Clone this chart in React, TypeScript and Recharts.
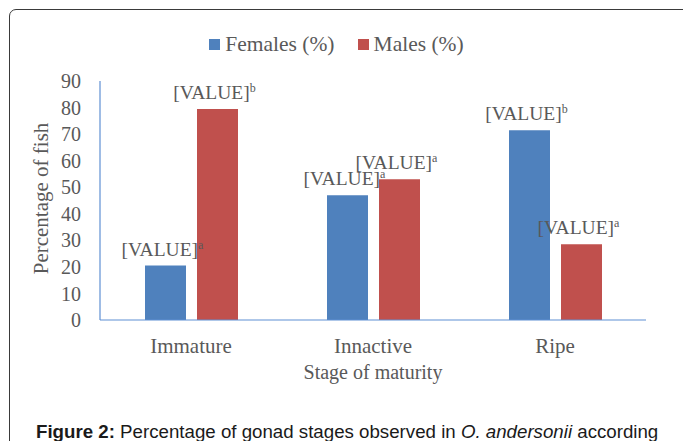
import React from "react";
import { BarChart, Bar, XAxis, YAxis, Legend, LabelList } from "recharts";

const stages = ["Immature", "Innactive", "Ripe"];
const females = [20.5, 47, 71.5];
const males = [79.5, 53, 28.5];
const femaleMarks = ["a", "a", "b"];
const maleMarks = ["b", "a", "a"];
const yTicks = [0, 10, 20, 30, 40, 50, 60, 70, 80, 90];

const data = stages.map((stage, i) => ({ stage, females: females[i], males: males[i] }));

const serif = "'Liberation Serif', 'Times New Roman', serif";
const grey = "#595959";
const axisBlue = "#5f8fd3";

const valueLabel = (marks: string[]) => (props: any) => {
  const { x, y, width, index } = props;
  const cx = x + width / 2 - 3;
  return (
    <text x={cx} y={y - 10} textAnchor="middle" fill={grey} fontFamily={serif} fontSize={19.5}>
      [VALUE]
      <tspan dy={-7} fontSize={12}>{marks[index]}</tspan>
    </text>
  );
};

function YTitle({ viewBox }: any) {
  const cy = viewBox.y + viewBox.height / 2 - 2;
  return (
    <text x={48} y={cy} transform={`rotate(-90 48 ${cy})`} textAnchor="middle" fill={grey} fontFamily={serif} fontSize={21}>
      Percentage of fish
    </text>
  );
}

function XTitle({ viewBox }: any) {
  return (
    <text x={viewBox.x + viewBox.width / 2} y={379} textAnchor="middle" fill={grey} fontFamily={serif} fontSize={20}>
      Stage of maturity
    </text>
  );
}

function LegendBox() {
  const items = [
    { name: "Females (%)", color: "#4f81bd" },
    { name: "Males (%)", color: "#c0504d" },
  ];
  return (
    <div style={{ display: "flex", justifyContent: "center", gap: 23, fontFamily: serif, fontSize: 21.5, color: grey, lineHeight: "24px" }}>
      {items.map((it) => (
        <div key={it.name} style={{ display: "flex", alignItems: "center" }}>
          <span style={{ width: 11, height: 11, background: it.color, marginRight: 5, display: "inline-block" }} />
          {it.name}
        </div>
      ))}
    </div>
  );
}

export default function App() {
  return (
    <div style={{ position: "absolute", left: 0, top: 0, width: 683, height: 441, overflow: "hidden", background: "#fff" }}>
      <div style={{ position: "absolute", left: 9, top: 9, width: 700, height: 480, border: "1.5px solid #3a3a3a", borderRadius: 7 }} />
      <BarChart
        width={683}
        height={441}
        data={data}
        margin={{ top: 81, right: 37, left: 0, bottom: 0 }}
        barSize={41}
        barGap={11}
      >
        <XAxis
          dataKey="stage"
          height={121}
          axisLine={{ stroke: axisBlue, strokeWidth: 1.2 }}
          tickLine={false}
          tickSize={6}
          tickMargin={12}
          tick={{ fill: grey, fontFamily: serif, fontSize: 21 }}
          label={<XTitle />}
        />
        <YAxis
          width={100}
          domain={[0, 90]}
          ticks={yTicks}
          interval={0}
          axisLine={{ stroke: axisBlue, strokeWidth: 1.2 }}
          tickLine={false}
          tickSize={6}
          tickMargin={13}
          tick={{ fill: grey, fontFamily: serif, fontSize: 20 }}
          label={<YTitle />}
        />
        <Legend verticalAlign="middle" content={<LegendBox />} wrapperStyle={{ top: 32, left: -5, width: 683 }} />
        <Bar dataKey="females" name="Females (%)" fill="#4f81bd" isAnimationActive={false}>
          <LabelList dataKey="females" content={valueLabel(femaleMarks)} />
        </Bar>
        <Bar dataKey="males" name="Males (%)" fill="#c0504d" isAnimationActive={false}>
          <LabelList dataKey="males" content={valueLabel(maleMarks)} />
        </Bar>
      </BarChart>
      <div style={{ position: "absolute", left: 36, top: 421, fontFamily: "'Liberation Sans', Arial, sans-serif", fontSize: 18.7, color: "#1a1a1a", whiteSpace: "nowrap" }}>
        <b>Figure 2:</b> Percentage of gonad stages observed in <i>O. andersonii</i> according
      </div>
    </div>
  );
}
